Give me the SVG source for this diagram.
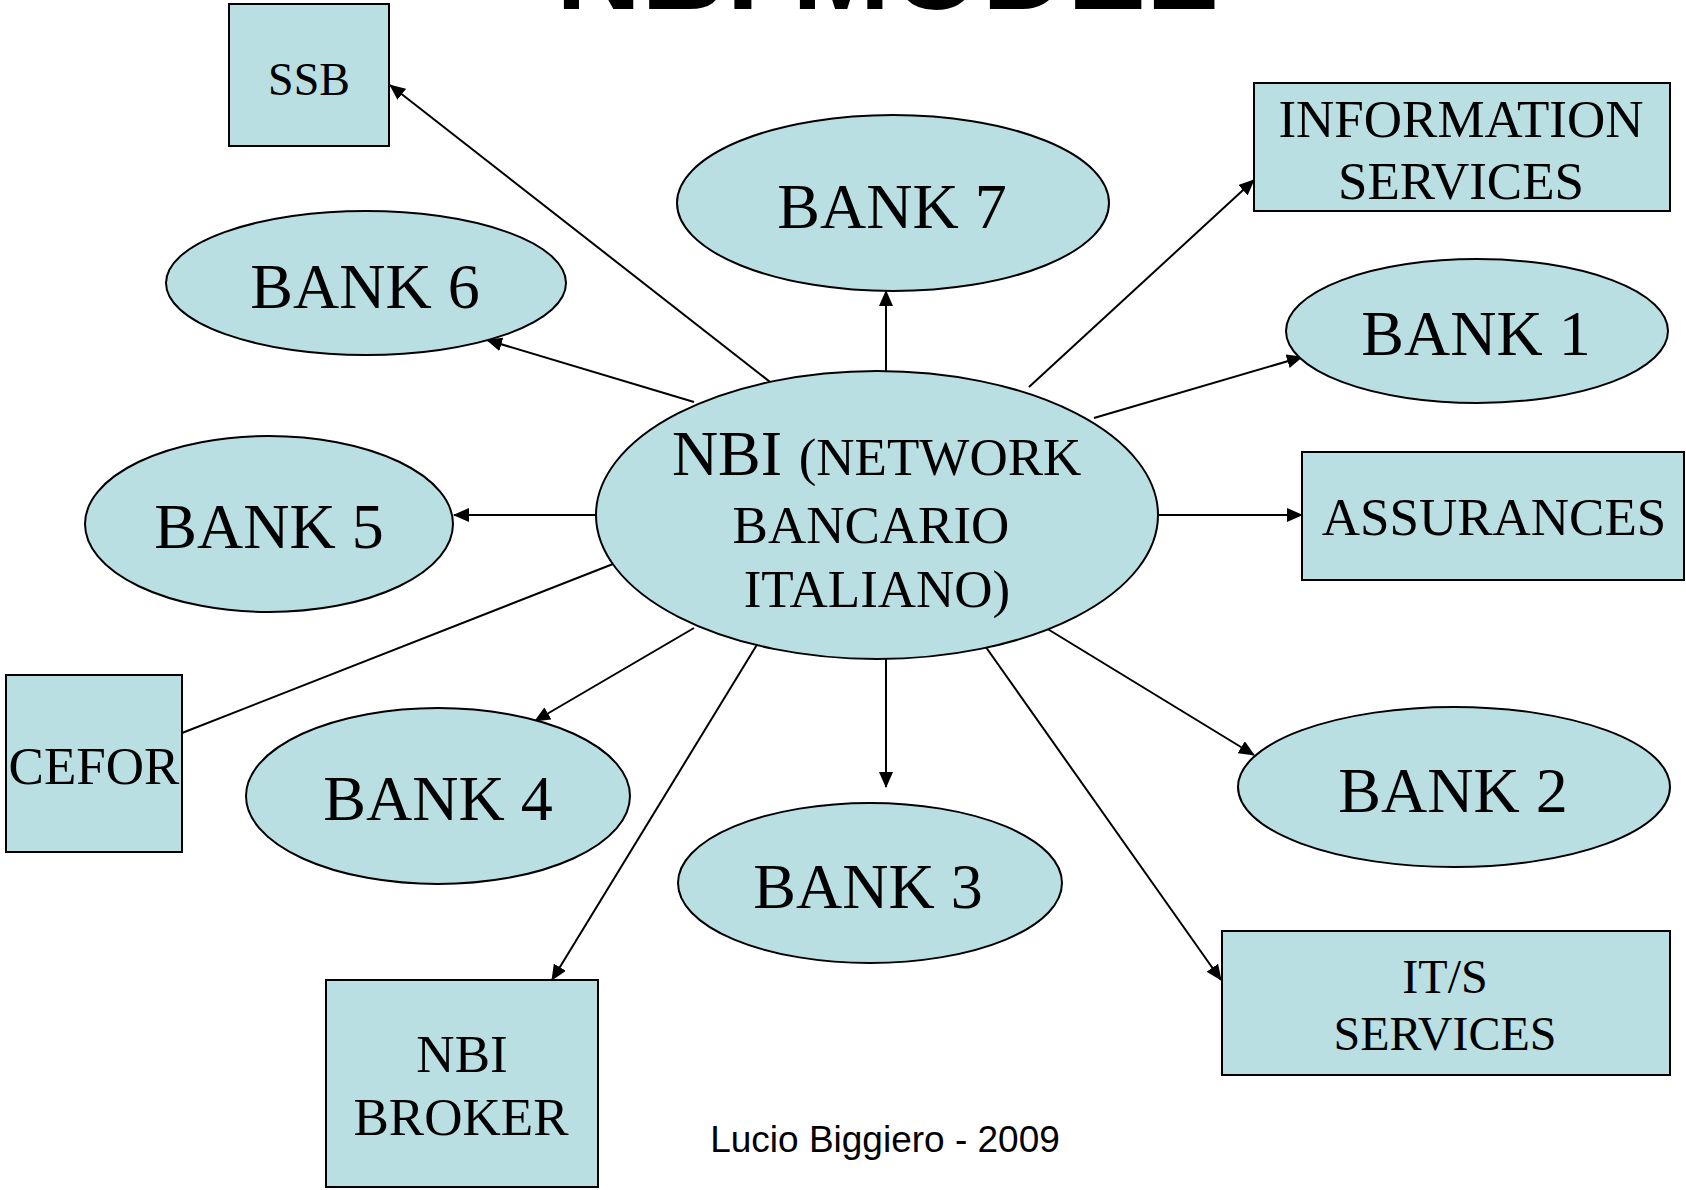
<svg xmlns="http://www.w3.org/2000/svg" width="1686" height="1190" viewBox="0 0 1686 1190">
<style>
.n{fill:#b9dfe3;stroke:#000;stroke-width:2}
.t{font-family:"Liberation Serif","Times New Roman",serif;fill:#000;text-anchor:middle}
.c{stroke:#000;stroke-width:2;fill:none}
.a{marker-end:url(#ah)}
</style>
<defs>
<marker id="ah" markerUnits="userSpaceOnUse" markerWidth="16" markerHeight="14" refX="15" refY="7" orient="auto">
<path d="M0,0 L16,7 L0,14 Z" fill="#000"/>
</marker>
</defs>
<rect width="1686" height="1190" fill="#fff"/>
<text x="887" y="9" font-family="'Liberation Sans',Arial,sans-serif" font-weight="bold" font-size="118" text-anchor="middle">NBI MODEL</text>
<g id="connectors">
<line class="c a" x1="774" y1="385" x2="390" y2="85"/>
<line class="c a" x1="694" y1="402" x2="487" y2="340"/>
<line class="c a" x1="886" y1="371" x2="886" y2="291"/>
<line class="c a" x1="1029" y1="387" x2="1254" y2="180"/>
<line class="c a" x1="1094" y1="418" x2="1302" y2="357"/>
<line class="c a" x1="1142" y1="515" x2="1302" y2="515"/>
<line class="c a" x1="597" y1="515" x2="454" y2="515"/>
<line class="c" x1="613" y1="564" x2="182" y2="733"/>
<line class="c a" x1="694" y1="628" x2="535" y2="721"/>
<line class="c a" x1="758" y1="643" x2="552" y2="980"/>
<line class="c a" x1="886" y1="659" x2="886" y2="787"/>
<line class="c a" x1="983" y1="643" x2="1221" y2="980"/>
<line class="c a" x1="1046" y1="628" x2="1254" y2="755"/>
</g>
<g id="ssb"><rect class="n" x="229" y="4" width="160" height="142"/><text class="t" x="309" y="95" font-size="46">SSB</text></g>
<g id="bank7"><ellipse class="n" cx="893" cy="203" rx="216" ry="88"/><text class="t" x="892" y="228" font-size="64">BANK 7</text></g>
<g id="bank6"><ellipse class="n" cx="366" cy="283" rx="200" ry="72"/><text class="t" x="365" y="308" font-size="64">BANK 6</text></g>
<g id="infoservices"><rect class="n" x="1254" y="83" width="416" height="128"/><text class="t" x="1461" y="137" font-size="53">INFORMATION</text><text class="t" x="1461" y="199" font-size="53">SERVICES</text></g>
<g id="bank1"><ellipse class="n" cx="1477" cy="331" rx="191" ry="72"/><text class="t" x="1476" y="355" font-size="64">BANK 1</text></g>
<g id="assurances"><rect class="n" x="1302" y="452" width="382" height="128"/><text class="t" x="1494" y="535" font-size="53">ASSURANCES</text></g>
<g id="bank5"><ellipse class="n" cx="269" cy="524" rx="184" ry="88"/><text class="t" x="269" y="548" font-size="64">BANK 5</text></g>
<g id="nbi"><ellipse class="n" cx="877" cy="515" rx="281" ry="144"/>
<text class="t" x="727" y="475" font-size="64">NBI</text><text class="t" x="940" y="475" font-size="53">(NETWORK</text>
<text class="t" x="871" y="543" font-size="53">BANCARIO</text>
<text class="t" x="877" y="607" font-size="53">ITALIANO)</text></g>
<g id="cefor"><rect class="n" x="6" y="675" width="176" height="177"/><text class="t" x="94" y="784" font-size="53">CEFOR</text></g>
<g id="bank4"><ellipse class="n" cx="438" cy="796" rx="192" ry="88"/><text class="t" x="438" y="820" font-size="64">BANK 4</text></g>
<g id="bank3"><ellipse class="n" cx="870" cy="883" rx="192" ry="80"/><text class="t" x="868" y="908" font-size="64">BANK 3</text></g>
<g id="bank2"><ellipse class="n" cx="1454" cy="787" rx="216" ry="80"/><text class="t" x="1453" y="812" font-size="64">BANK 2</text></g>
<g id="nbibroker"><rect class="n" x="326" y="980" width="272" height="207"/><text class="t" x="462" y="1072" font-size="53">NBI</text><text class="t" x="461" y="1135" font-size="53">BROKER</text></g>
<g id="itservices"><rect class="n" x="1222" y="931" width="448" height="144"/><text class="t" x="1445" y="993" font-size="48">IT/S</text><text class="t" x="1445" y="1050" font-size="48">SERVICES</text></g>
<text x="885" y="1152" font-family="'Liberation Sans',Arial,sans-serif" font-size="37" text-anchor="middle">Lucio Biggiero - 2009</text>
</svg>
